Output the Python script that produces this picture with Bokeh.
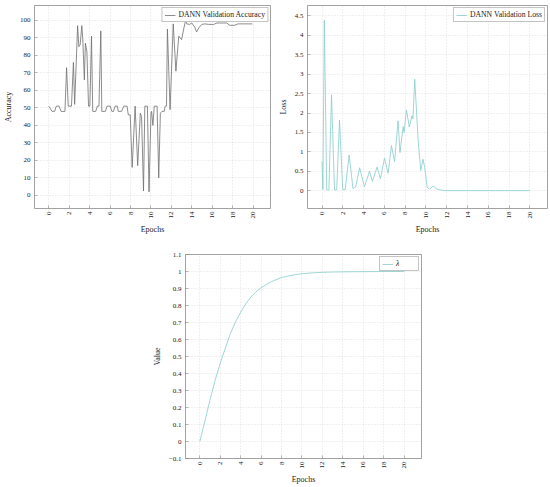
import math
from bokeh.plotting import figure
from bokeh.layouts import column, row
from bokeh.models import FixedTicker, Range1d, Spacer
from bokeh.embed import file_html
from bokeh.resources import INLINE

FONT = "Liberation Serif"

# ---- data ----
acc_epochs = [0.0, 0.32, 0.57, 0.73, 1.01, 1.2, 1.58, 1.74, 1.9, 2.22, 2.41, 2.53, 2.82, 2.94, 3.07,
              3.23, 3.32, 3.48, 3.58, 3.73, 3.89, 4.02, 4.18, 4.3, 4.59, 4.75, 4.91, 5.09, 5.19, 5.54,
              5.7, 6.01, 6.17, 6.33, 6.49, 6.71, 6.8, 7.12, 7.34, 7.66, 7.78, 7.97, 8.16, 8.45, 8.7,
              8.96, 9.08, 9.27, 9.4, 9.65, 9.81, 10.0, 10.06, 10.19, 10.32, 10.6, 10.76, 10.92, 11.08,
              11.3, 11.39, 11.52, 11.61, 11.87, 12.18, 12.44, 12.72, 13.0, 13.2, 13.39, 13.51, 13.77,
              14.0, 14.3, 14.46, 14.72, 14.97, 15.28, 15.66, 16.14, 16.46, 17.41, 17.72, 18.2, 18.51, 19.94]
acc_values = [51, 48, 48, 51, 51, 48, 48, 73, 51, 51, 76, 52, 97, 85, 86,
              97, 90, 66, 87, 82, 51, 51, 91, 48, 48, 51, 51, 94, 48, 48,
              51, 51, 48, 48, 51, 51, 48, 48, 51, 51, 46, 46, 16, 51, 17,
              47, 45, 2.5, 51, 51, 2, 47, 48, 40, 51, 51, 10, 47, 48,
              48, 51, 51, 95, 49, 98, 71, 91, 89, 95, 100, 98, 97.7,
              98.5, 96, 93.4, 96, 97.7, 98, 97.7, 97.7, 98.5, 98.5, 97.2, 97.2, 98, 98]

loss_epochs = [0.0, 0.08, 0.22, 0.45, 0.66, 0.91, 1.2, 1.41, 1.68, 1.99, 2.23, 2.61, 2.98, 3.24, 3.62,
               4.08, 4.57, 4.85, 5.3, 5.62, 6.01, 6.36, 6.68, 6.98, 7.32, 7.5, 7.81, 7.9, 8.12, 8.4,
               8.65, 8.75, 8.92, 9.25, 9.5, 9.72, 9.88, 10.12, 10.35, 10.72, 10.96, 11.3, 11.9, 20.0]
loss_values = [0.75, 0.03, 4.39, 0.02, 0.02, 2.46, 0.02, 0.02, 1.82, 0.03, 0.03, 0.92, 0.05, 0.1, 0.59,
               0.1, 0.5, 0.24, 0.61, 0.3, 0.84, 0.45, 1.16, 0.75, 1.8, 0.98, 1.65, 1.5, 2.08, 1.64,
               1.93, 1.85, 2.87, 1.3, 0.52, 0.81, 0.6, 0.08, 0.04, 0.12, 0.05, 0.02, 0.0, 0.0]

lambda_epochs = [0, 0.5, 1, 1.5, 2, 2.5, 3, 3.5, 4, 4.5, 5, 5.5, 6, 7, 8, 9, 10, 11, 12, 13, 14, 16, 18, 20]
lambda_values = [0, 0.12, 0.245, 0.36, 0.46, 0.55, 0.635, 0.705, 0.76, 0.81, 0.85, 0.88, 0.905, 0.94,
                 0.965, 0.978, 0.987, 0.992, 0.995, 0.997, 0.998, 0.999, 1.0, 1.0]

x_ticks = [0, 2, 4, 6, 8, 10, 12, 14, 16, 18, 20]
acc_ticks = [0, 10, 20, 30, 40, 50, 60, 70, 80, 90, 100]
loss_ticks = [0, 0.5, 1, 1.5, 2, 2.5, 3, 3.5, 4, 4.5]
loss_tick_labels = ["0", "0.5", "1", "1.5", "2", "2.5", "3", "3.5", "4", "4.5"]
lambda_ticks = [-0.1, 0, 0.1, 0.2, 0.3, 0.4, 0.5, 0.6, 0.7, 0.8, 0.9, 1, 1.1]
lambda_tick_labels = ["\u22120.1", "0", "0.1", "0.2", "0.3", "0.4", "0.5", "0.6", "0.7", "0.8",
                      "0.9", "1", "1.1"]

GRAY_LINE = "#6f6f6f"
TEAL = "#88cbcb"


def make_fig(width, height, y_rng, y_ticks, y_labels, y_title, borders):
    left, right, top, bottom = borders
    p = figure(width=width, height=height, x_range=Range1d(-1.4, 21.7), y_range=Range1d(*y_rng),
               output_backend="svg", toolbar_location=None,
               min_border_left=left, min_border_right=right, min_border_top=top,
               min_border_bottom=bottom)
    p.background_fill_color = "white"
    p.border_fill_color = "white"
    p.outline_line_color = "#8a8a8a"
    p.outline_line_width = 0.8

    p.xaxis.ticker = FixedTicker(ticks=x_ticks)
    p.yaxis.ticker = FixedTicker(ticks=y_ticks)
    if y_labels is not None:
        p.yaxis.major_label_overrides = {t: l for t, l in zip(y_ticks, y_labels)}
    p.xaxis.major_label_orientation = math.pi / 2

    for ax in (p.xaxis, p.yaxis):
        ax.axis_line_color = None
        ax.major_tick_in = 3
        ax.major_tick_out = 0
        ax.major_tick_line_color = "#8a8a8a"
        ax.major_tick_line_width = 0.6
        ax.minor_tick_line_color = None
        ax.major_label_text_font = FONT
        ax.major_label_text_font_size = "7px"
        ax.major_label_text_color = "#1a1a1a"
        ax.axis_label_text_font = FONT
        ax.axis_label_text_font_size = "8px"
        ax.axis_label_text_font_style = "normal"
        ax.axis_label_text_color = "#1a1a1a"
    p.xaxis.major_label_standoff = 3
    p.xaxis.axis_label_standoff = 3
    p.yaxis.major_label_standoff = 4
    p.yaxis.axis_label_standoff = 4
    p.xaxis.axis_label = "Epochs"
    p.yaxis.axis_label = y_title

    p.xgrid.ticker = FixedTicker(ticks=x_ticks)
    p.ygrid.ticker = FixedTicker(ticks=y_ticks)
    for g in (p.xgrid, p.ygrid):
        g.grid_line_color = "#cfcfcf"
        g.grid_line_width = 0.6
        g.grid_line_dash = "1 2"
    return p


def style_legend(p, italic=False):
    lg = p.legend[0]
    lg.location = "top_right"
    lg.margin = 2
    lg.padding = 2
    lg.spacing = 0
    lg.label_text_font = FONT
    lg.label_text_font_size = "7.7px"
    lg.label_text_color = "#1a1a1a"
    lg.label_text_font_style = "italic" if italic else "normal"
    lg.label_height = 8
    lg.glyph_height = 8
    lg.glyph_width = 11
    lg.label_standoff = 3
    lg.border_line_color = "#8a8a8a"
    lg.border_line_width = 0.7
    lg.background_fill_alpha = 1.0


# top row: frames at y 5..210; bottom figure frame at y 254..462
p1 = make_fig(275, 236, (-7.5, 108.5), acc_ticks, None, "Accuracy", (27, 5, 5, 26))
p1.line(acc_epochs, acc_values, line_color=GRAY_LINE, line_width=0.8,
        legend_label="DANN Validation Accuracy")
style_legend(p1)

p2 = make_fig(274, 236, (-0.46, 4.77), loss_ticks, loss_tick_labels, "Loss", (26, 2, 5, 26))
p2.line(loss_epochs, loss_values, line_color=TEAL, line_width=0.8,
        legend_label="DANN Validation Loss")
style_legend(p2)

p3 = make_fig(276, 250, (-0.1, 1.1), lambda_ticks, lambda_tick_labels, "Value", (30, 4, 18, 24))
p3.line(lambda_epochs, lambda_values, line_color=TEAL, line_width=0.8, legend_label="\u03bb")
style_legend(p3, italic=True)

layout = column(row(p1, p2), row(Spacer(width=149, height=250), p3))

open("out.html", "w").write(file_html(layout, INLINE))
